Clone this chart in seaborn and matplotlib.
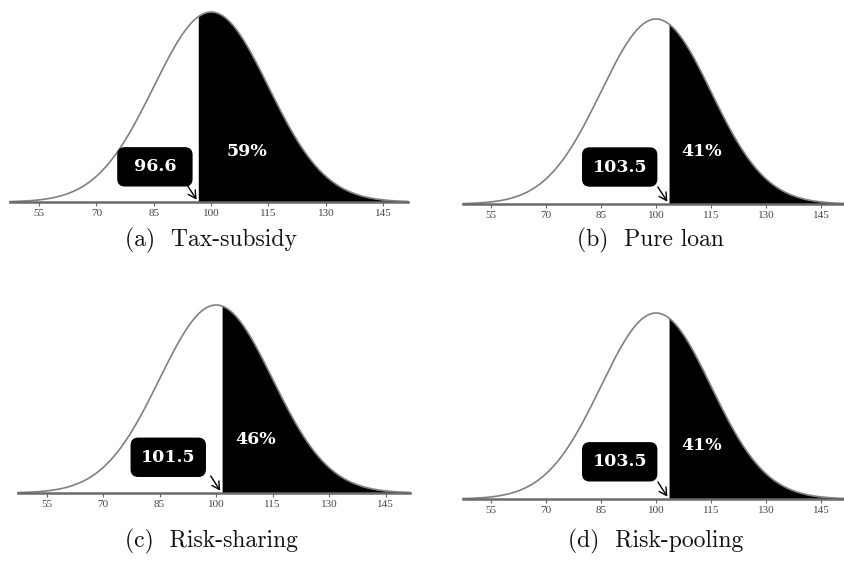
import numpy as np
import pandas as pd
import matplotlib
matplotlib.use("Agg")
import matplotlib.pyplot as plt
import matplotlib.transforms as mtransforms
from matplotlib.patches import FancyBboxPatch
import seaborn as sns

# Score distribution shared by all four schemes
mean_score = 100.0
sd_score = 15.0

# One entry per scheme
panel_tags = ["(a)", "(b)", "(c)", "(d)"]
scheme_names = ["Tax-subsidy", "Pure loan", "Risk-sharing", "Risk-pooling"]
thresholds = [96.6, 103.5, 101.5, 103.5]
threshold_labels = ["96.6", "103.5", "101.5", "103.5"]
shares_above = [59, 41, 46, 41]
tick_values = [55, 70, 85, 100, 115, 130, 145]

sns.set_theme(style="white")
plt.rcParams["font.family"] = ["DejaVu Sans"]

W, H, DPI = 845, 564, 100
fig = plt.figure(figsize=(W / DPI, H / DPI), dpi=DPI)

# axes rectangles in pixels: left, top, right, bottom
axes_px = [(10, 12, 408, 202), (463, 19, 845, 204),
           (18, 305, 410, 493), (463, 313, 845, 499)]
# label placement: box centre (x data, y axes-fraction), share text likewise
box_pos = [(85.3, 0.185), (90.1, 0.20), (87.3, 0.19), (90.1, 0.20)]
pct_pos = [(109.4, 0.265), (112.3, 0.285), (110.4, 0.285), (112.3, 0.285)]
caption_px = [(211, 240), (650, 240), (211, 541), (656, 541)]

xlo, xhi = 47.4, 151.5
xs = np.linspace(xlo, xhi, 800)
pdf = np.exp(-0.5 * ((xs - mean_score) / sd_score) ** 2) / (sd_score * np.sqrt(2 * np.pi))
curve = pd.DataFrame({"score": xs, "density": pdf})

BOX_W, BOX_H = 74, 38  # pixels

for i in range(4):
    l, t, r, b = axes_px[i]
    ax = fig.add_axes([l / W, (H - b) / H, (r - l) / W, (b - t) / H])
    ax.set_xlim(xlo, xhi)
    ax.set_ylim(0, pdf.max())

    thr = thresholds[i]
    mask = curve["score"] >= thr
    ax.fill_between(curve["score"][mask], 0, curve["density"][mask],
                    color="black", lw=0, zorder=2)
    sns.lineplot(data=curve, x="score", y="density", ax=ax, color="#808080",
                 lw=1.2, clip_on=False, zorder=3)

    for side in ["top", "left", "right"]:
        ax.spines[side].set_visible(False)
    ax.spines["bottom"].set_color("#6a6a6a")
    ax.spines["bottom"].set_linewidth(1.8)
    ax.spines["bottom"].set_zorder(4)
    ax.set_xticks(tick_values)
    ax.set_xticklabels([str(v) for v in tick_values],
                       fontfamily="Liberation Serif", fontsize=8, color="#444444")
    ax.tick_params(axis="x", bottom=True, length=3, width=0.8, color="#666666",
                   direction="out", pad=2)
    ax.set_yticks([])
    ax.set_xlabel("")
    ax.set_ylabel("")
    ax.grid(False)

    # threshold label in a rounded black box
    blend = mtransforms.blended_transform_factory(ax.transData, ax.transAxes)
    bx, by = box_pos[i]
    tr = mtransforms.ScaledTranslation(bx, by, blend)
    box = FancyBboxPatch((-BOX_W / 2, -BOX_H / 2), BOX_W, BOX_H,
                         boxstyle="round,pad=0,rounding_size=7",
                         fc="black", ec="black", transform=tr, zorder=5,
                         clip_on=False)
    ax.add_patch(box)
    ax.text(bx, by, threshold_labels[i], transform=blend, ha="center",
            va="center", color="white", fontsize=12.5, fontweight="bold",
            fontfamily="DejaVu Serif", zorder=6)

    # arrow from the box down to the threshold on the axis
    ax.annotate("", xy=(thr, 0), xycoords="data",
                xytext=(-11 * 72 / DPI, 17 * 72 / DPI), textcoords="offset points",
                arrowprops=dict(arrowstyle="->,head_length=0.45,head_width=0.25",
                                color="black", lw=1.0, shrinkA=0, shrinkB=2),
                zorder=6)

    px, py = pct_pos[i]
    ax.text(px, py, f"{shares_above[i]}%", transform=blend, ha="center",
            va="center", color="white", fontsize=12.5, fontweight="bold",
            fontfamily="DejaVu Serif", zorder=6)

    cx, cy = caption_px[i]
    fig.text(cx / W, (H - cy) / H, f"{panel_tags[i]}  {scheme_names[i]}",
             ha="center", va="center", fontsize=17, fontfamily="cmr10",
             color="#111111")

fig.savefig("out.png", dpi=DPI)
